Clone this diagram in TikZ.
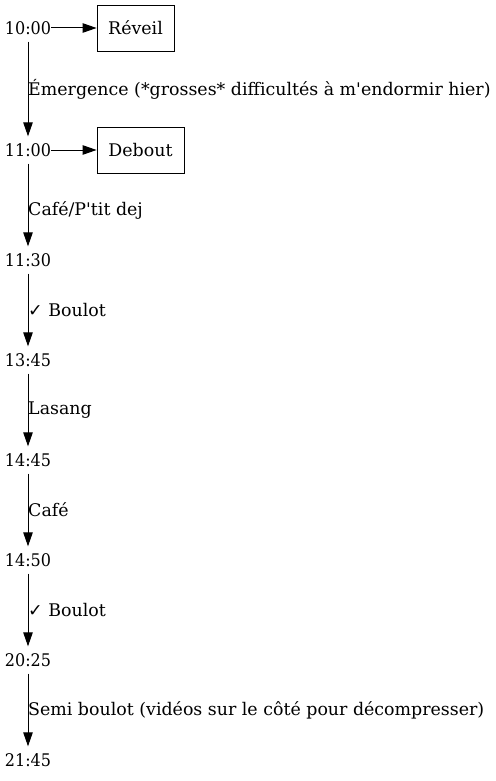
\documentclass[tikz,border=0pt]{standalone}
\usepackage{fontspec}
\setmainfont[Ligatures=TeXOff]{DejaVu Serif}
\newfontfamily\timefont[Ligatures=TeXOff,FakeStretch=0.92]{DejaVu Serif}
\newfontfamily\symfont{DejaVu Sans}
\usetikzlibrary{arrows.meta}
\begin{document}
\begin{tikzpicture}[x=1pt,y=-1pt,
  every node/.style={font=\fontsize{17.4}{20}\selectfont},
  tnode/.style={font=\fontsize{17.4}{20}\timefont,inner xsep=0pt,inner ysep=0pt,minimum height=27pt,anchor=center},
  boxnode/.style={draw,line width=0.9pt,minimum height=46pt,inner sep=0pt},
  arr/.style={line width=1pt,-{Triangle[length=14pt,width=9.5pt]}},
  elabel/.style={anchor=west,inner sep=0pt}]
\useasboundingbox (0,0) rectangle (495,781);
\node[tnode] (t1) at (28,28) {10:00};
\node[tnode] (t2) at (28,150) {11:00};
\node[tnode] (t3) at (28,260) {11:30};
\node[tnode] (t4) at (28,360) {13:45};
\node[tnode] (t5) at (28,460) {14:45};
\node[tnode] (t6) at (28,560) {14:50};
\node[tnode] (t7) at (28,660) {20:25};
\node[tnode] (t8) at (28,760) {21:45};
\node[boxnode,minimum width=77pt] (r) at (135.5,28) {Réveil};
\node[boxnode,minimum width=87pt] (d) at (140.5,150) {Debout};
\draw[arr] (t1.east) -- (r.west);
\draw[arr] (t2.east) -- (d.west);
\draw[arr] (t1.south) -- (t2.north);
\draw[arr] (t2.south) -- (t3.north);
\draw[arr] (t3.south) -- (t4.north);
\draw[arr] (t4.south) -- (t5.north);
\draw[arr] (t5.south) -- (t6.north);
\draw[arr] (t6.south) -- (t7.north);
\draw[arr] (t7.south) -- (t8.north);
\node[elabel] (l1) at (28,89) {Émergence (*grosses* difficultés à m'endormir hier)};
\node[elabel] (l2) at (28,210) {Café/P'tit dej};
\node[elabel] (l3) at (28,310) {{\symfont ✓} Boulot};
\node[elabel] (l4) at (28,410) {Lasang};
\node[elabel] (l5) at (28,510) {Café};
\node[elabel] (l6) at (28,610) {{\symfont ✓} Boulot};
\node[elabel] (l7) at (28,710) {Semi boulot (vidéos sur le côté pour décompresser)};
\end{tikzpicture}
\end{document}
